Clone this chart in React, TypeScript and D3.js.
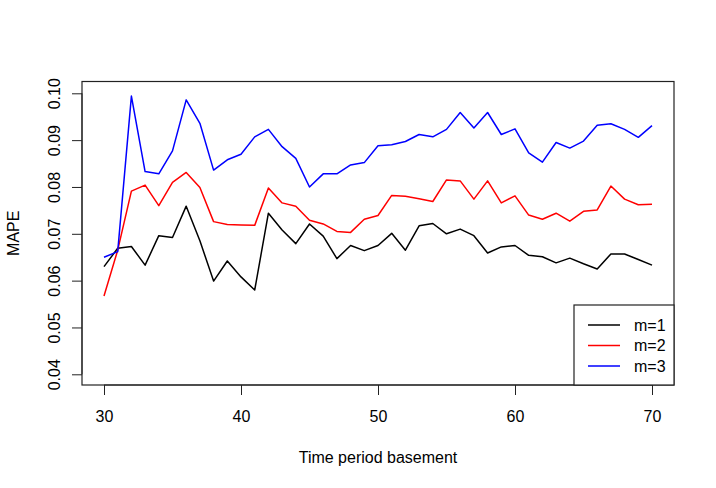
import * as d3 from 'd3';
import { useRef, useEffect } from 'react';

// Time period basement (x values)
const periods = d3.range(30, 71);

// MAPE for m=1, m=2, m=3
const mape1 = [
    0.0630, 0.0669, 0.0673, 0.0633, 0.0696, 0.0692, 0.0759, 0.0685, 0.0599, 0.0642,
    0.0608, 0.0580, 0.0744, 0.0708, 0.0679, 0.0721, 0.0695, 0.0647, 0.0675, 0.0664,
    0.0675, 0.0701, 0.0665, 0.0717, 0.0722, 0.0700, 0.0710, 0.0696, 0.0659, 0.0672,
    0.0675, 0.0654, 0.0651, 0.0638, 0.0648, 0.0636, 0.0625, 0.0657, 0.0657, 0.0645,
    0.0633,
];
const mape2 = [
    0.0567, 0.0665, 0.0791, 0.0804, 0.0760, 0.0810, 0.0831, 0.0799, 0.0726, 0.0720,
    0.0719, 0.0718, 0.0798, 0.0766, 0.0759, 0.0729, 0.0721, 0.0705, 0.0703, 0.0731,
    0.0739, 0.0782, 0.0780, 0.0775, 0.0769, 0.0815, 0.0813, 0.0774, 0.0813, 0.0766,
    0.0781, 0.0740, 0.0731, 0.0744, 0.0727, 0.0748, 0.0751, 0.0802, 0.0774, 0.0762,
    0.0763,
];
const mape3 = [
    0.0650, 0.0662, 0.0994, 0.0833, 0.0828, 0.0877, 0.0986, 0.0936, 0.0836, 0.0858,
    0.0870, 0.0907, 0.0923, 0.0886, 0.0861, 0.0800, 0.0828, 0.0828, 0.0847, 0.0852,
    0.0888, 0.0890, 0.0897, 0.0912, 0.0907, 0.0923, 0.0959, 0.0926, 0.0959, 0.0912,
    0.0924, 0.0873, 0.0853, 0.0895, 0.0883, 0.0898, 0.0932, 0.0935, 0.0923, 0.0906,
    0.0931,
];

const xTicks = [30, 40, 50, 60, 70];
const yTicks = [0.04, 0.05, 0.06, 0.07, 0.08, 0.09, 0.10];

const seriesNames = ['m=1', 'm=2', 'm=3'];
const seriesColors = ['#000000', '#ff0000', '#0000ff'];

const Chart = () => {
    const svgRef = useRef<SVGSVGElement>(null);

    useEffect(() => {
        if (!svgRef.current) return;

        const width = 716;
        const height = 488;
        const box = { left: 82, right: 674, top: 81.5, bottom: 385 };
        const font = '"Liberation Sans", Arial, sans-serif';

        const svg = d3.select(svgRef.current)
            .attr('width', width)
            .attr('height', height);
        svg.selectAll('*').remove();

        const x = d3.scaleLinear().domain([30, 70]).range([104, 652]);
        const y = d3.scaleLinear().domain([0.04, 0.10]).range([374.3, 93.3]);

        const line = d3.line<number>()
            .x((_, i) => x(periods[i]))
            .y(d => y(d));

        [mape1, mape2, mape3].forEach((s, k) => {
            svg.append('path')
                .datum(s)
                .attr('d', line)
                .attr('fill', 'none')
                .attr('stroke', seriesColors[k])
                .attr('stroke-width', 1.5)
                .attr('stroke-linejoin', 'round');
        });

        // plot frame
        svg.append('rect')
            .attr('x', box.left)
            .attr('y', box.top)
            .attr('width', box.right - box.left)
            .attr('height', box.bottom - box.top)
            .attr('fill', 'none')
            .attr('stroke', '#222')
            .attr('stroke-width', 1.2);

        // x axis
        const xAxis = svg.append('g')
            .attr('transform', `translate(0,${box.bottom})`)
            .call(d3.axisBottom(x).tickValues(xTicks).tickSize(10).tickPadding(16).tickFormat(d3.format('d')));
        xAxis.select('.domain')
            .attr('d', `M${x(30)},0H${x(70)}`)
            .attr('stroke', '#222');
        xAxis.selectAll('line').attr('stroke', '#222');
        xAxis.selectAll('text')
            .attr('font-size', 16)
            .attr('font-family', font)
            .attr('fill', '#000');

        // y axis
        const yAxis = svg.append('g')
            .attr('transform', `translate(${box.left},0)`)
            .call(d3.axisLeft(y).tickValues(yTicks).tickSize(10).tickFormat(d3.format('.2f')));
        yAxis.select('.domain')
            .attr('d', `M0,${y(0.04)}V${y(0.10)}`)
            .attr('stroke', '#222');
        yAxis.selectAll('line').attr('stroke', '#222');
        yAxis.selectAll('text')
            .attr('x', null)
            .attr('dy', null)
            .attr('transform', 'translate(-22,0) rotate(-90)')
            .attr('text-anchor', 'middle')
            .attr('font-size', 16)
            .attr('font-family', font)
            .attr('fill', '#000');

        // axis titles
        svg.append('text')
            .attr('x', (box.left + box.right) / 2)
            .attr('y', 463)
            .attr('text-anchor', 'middle')
            .attr('font-size', 16)
            .attr('font-family', font)
            .text('Time period basement');

        svg.append('text')
            .attr('transform', `translate(19,${(box.top + box.bottom) / 2}) rotate(-90)`)
            .attr('text-anchor', 'middle')
            .attr('font-size', 16)
            .attr('font-family', font)
            .text('MAPE');

        // legend
        const legend = svg.append('g');
        legend.append('rect')
            .attr('x', 574)
            .attr('y', 305)
            .attr('width', box.right - 574)
            .attr('height', box.bottom - 305)
            .attr('fill', '#fff')
            .attr('stroke', '#222')
            .attr('stroke-width', 1.2);
        seriesNames.forEach((name, k) => {
            const ly = 325 + k * 20.5;
            legend.append('line')
                .attr('x1', 588)
                .attr('x2', 620)
                .attr('y1', ly)
                .attr('y2', ly)
                .attr('stroke', seriesColors[k])
                .attr('stroke-width', 1.5);
            legend.append('text')
                .attr('x', 634)
                .attr('y', ly + 5.5)
                .attr('font-size', 16)
                .attr('font-family', font)
                .text(name);
        });
    }, []);

    return <svg ref={svgRef} style={{ position: 'absolute', left: 0, top: 0 }} />;
};

export default function App() {
    return <Chart />;
}
